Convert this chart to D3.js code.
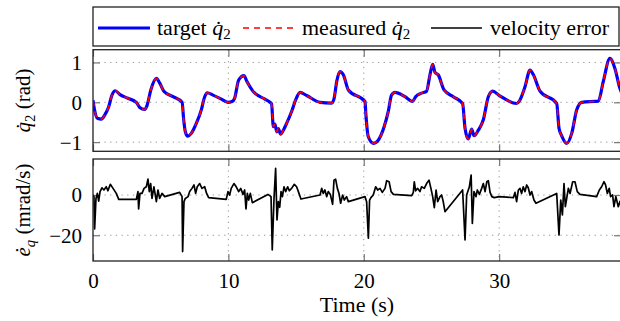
<!DOCTYPE html>
<html>
<head>
<meta charset="utf-8">
<script src="https://cdn.jsdelivr.net/npm/d3@7"></script>
<style>
  body { margin: 0; background: #fff; }
</style>
</head>
<body>
<svg id="chart" width="620" height="321"></svg>
<script>
// values, [time s, value]
const targetQ2 = [
  [0,0.05],[0.12,-0.2],[0.32,-0.40],[0.62,-0.42],[0.86,-0.32],[1.16,-0.11],[1.4,0.18],[1.65,0.29],
  [1.97,0.20],[2.58,0.10],[3.2,0.0],[3.45,-0.13],[3.82,-0.18],[4.0,-0.07],[4.27,0.31],[4.69,0.60],
  [4.93,0.48],[5.25,0.27],[5.91,0.14],[6.58,0.0],[6.7,-0.44],[6.82,-0.74],[7.0,-0.85],[7.26,-0.78],
  [7.63,-0.53],[8.0,-0.19],[8.25,0.14],[8.44,0.24],[8.86,0.18],[9.48,0.08],[9.97,0.0],[10.27,0.02],
  [10.46,0.10],[10.76,0.56],[11.15,0.67],[11.37,0.52],[11.81,0.28],[12.7,0.08],[13.07,0.0],
  [13.19,-0.04],[13.32,-0.61],[13.44,-0.55],[13.57,-0.74],[13.69,-0.66],[13.86,-0.80],[14.06,-0.70],
  [14.3,-0.53],[14.67,-0.23],[14.97,0.06],[15.29,0.25],[15.78,0.17],[16.77,0.0],[17.63,-0.02],
  [17.81,0.10],[18.0,0.52],[18.24,0.77],[18.49,0.69],[18.86,0.31],[20.09,0.02],[20.16,-0.32],
  [20.33,-0.86],[20.7,-1.03],[21.07,-0.95],[21.51,-0.61],[21.81,-0.23],[22.05,0.18],[22.3,0.25],
  [23.04,0.14],[23.6,0.02],[23.83,0.14],[24.27,0.23],[24.64,0.28],[24.89,0.69],[25.09,0.95],
  [25.26,0.75],[25.5,0.69],[25.93,0.31],[26.61,0.14],[27.3,-0.03],[27.48,-0.65],[27.72,-0.92],
  [27.97,-0.67],[28.14,-0.84],[28.46,-0.70],[28.83,-0.44],[29.2,0.14],[29.52,0.28],[30.01,0.17],
  [31.29,-0.03],[31.49,0.03],[31.91,0.39],[32.28,0.81],[32.53,0.69],[33.02,0.28],[34.25,-0.03],
  [34.42,-0.65],[34.62,-0.84],[34.99,-1.03],[35.36,-0.78],[35.73,-0.19],[36.1,0.0],[37.33,0.03],
  [37.69,0.52],[38.18,1.10],[38.55,0.85],[38.92,0.35],[39.1,0.2]
];
// measured overlaps the target everywhere at this scale
const measuredQ2 = targetQ2;

const velError = [
  [0,0],[0.07,-0.8],[0.12,-16.9],[0.22,-1.7],[0.32,0.8],[0.42,-3],[0.52,1.7],[0.66,3.6],[0.81,2.5],
  [0.98,4.1],[1.1,2.1],[1.28,5.3],[1.48,3.3],[1.72,0.8],[1.9,-2.2],[3.2,-2.2],[3.32,1.7],[3.37,-6.9],
  [3.47,0.8],[3.62,0.8],[3.77,3.3],[3.94,4.1],[4.06,7.9],[4.16,1.7],[4.26,5.7],[4.36,-1.7],[4.5,4.1],
  [4.68,-3.3],[4.8,2.5],[4.92,-1.7],[5.1,0.8],[5.3,-0.8],[6.4,1.3],[6.58,-0.8],[6.62,-28.1],[6.72,-3.3],
  [6.82,-1.7],[7.02,-0.8],[7.14,1.7],[7.31,3.3],[7.46,5.0],[7.58,0.8],[7.7,4.1],[7.88,5.7],[8.05,3.3],
  [8.25,4.1],[8.39,0.8],[8.54,-1.3],[9.84,-2.2],[9.97,1.7],[10.09,0],[10.21,3.3],[10.41,5.7],
  [10.58,4.1],[10.76,1.7],[10.91,3.3],[11.08,0.3],[11.2,2.5],[11.3,-6.9],[11.4,0.8],[11.5,-2.5],
  [11.62,0.8],[11.77,-3.8],[12.92,0.3],[13.15,-0.8],[13.24,-27.3],[13.37,-1.7],[13.49,13.2],
  [13.59,-12.4],[13.69,-3.3],[13.79,-6.1],[13.89,1.7],[13.99,-0.8],[14.11,4.1],[14.23,1.7],[14.38,4.1],
  [14.5,2.1],[14.67,3.3],[14.87,5.3],[15.04,4.1],[15.17,1.7],[15.36,-2],[16.77,0],[16.89,3.3],
  [17.01,0.8],[17.13,2.5],[17.26,-0.8],[17.38,1.7],[17.53,0.3],[17.7,-4.6],[17.8,7.4],[17.92,7.9],
  [18.05,3.3],[18.17,0.8],[18.29,-4.1],[18.44,0],[18.56,-2.5],[18.73,-0.8],[18.86,-3.3],[20.09,-0.8],
  [20.21,-3.3],[20.34,-21.5],[20.43,-2.5],[20.53,-1.3],[20.7,0],[20.88,4.1],[21.03,2.5],[21.2,3.3],
  [21.37,1.3],[21.57,3.3],[21.69,7.1],[21.87,6.6],[22.02,1.7],[22.19,0.3],[23.54,-0.3],[23.66,1.3],
  [23.73,6.6],[23.83,2.1],[23.98,3.3],[24.15,1.7],[24.27,4.1],[24.47,3.3],[24.64,5.7],[24.82,7.4],
  [24.96,3.3],[25.09,-0.8],[25.21,-6.3],[25.34,2.5],[25.46,-3.3],[25.63,-0.8],[25.75,0],[25.87,-3.3],
  [26.0,-8.3],[27.3,2.5],[27.48,-22.3],[27.6,0],[27.8,4.1],[27.93,9.9],[28.02,-14.1],[28.14,1.7],
  [28.29,-0.8],[28.39,2.5],[28.54,0.3],[28.71,3.3],[28.83,5.7],[28.96,1.7],[29.09,6.6],[29.2,7.1],
  [29.33,1.3],[29.46,-0.8],[29.63,-1.3],[30.02,-0.8],[31.05,-1.3],[31.17,1.3],[31.29,-3.3],[31.42,2.5],
  [31.54,3.3],[31.66,0.8],[31.78,4.1],[31.91,1.7],[32.03,5.0],[32.15,3.6],[32.28,0],[32.4,1.7],
  [32.57,-2.5],[32.72,-4.1],[34.25,0.8],[34.42,-19.9],[34.55,-2.5],[34.67,-9.9],[34.79,5.7],
  [34.89,-5.8],[34.99,-1.7],[35.11,3.3],[35.24,0.8],[35.43,6.6],[35.6,6.6],[35.77,1.7],[35.97,0.3],
  [37.2,-0.8],[37.4,2.5],[37.57,4.1],[37.74,6.6],[37.86,5.0],[37.99,0.8],[38.13,3.3],[38.23,-0.8],
  [38.38,0],[38.48,-5.8],[38.62,-0.8],[38.8,-5.8],[38.92,-3.3],[39.1,-2]
];

const xTicks = [0, 10, 20, 30];
const q2Ticks = [-1, 0, 1];
const errTicks = [-20, 0];

// pick the first serif face the renderer actually has
const pickFont = function () {
  const ctx = document.createElement("canvas").getContext("2d");
  const probe = "Time (s) velocity error 0123";
  const width = f => { ctx.font = "22px " + f; return ctx.measureText(probe).width; };
  const candidates = ["Liberation Serif", "DejaVu Serif", "Noto Serif", "Tinos", "Times New Roman", "Nimbus Roman", "FreeSerif"];
  for (const c of candidates) {
    const w = width(`'${c}'`);
    if (w !== width(`'${c}', monospace`) ) continue; // shouldn't happen
    if (w !== width("monospace") && width(`'${c}', sans-serif`) !== width("sans-serif")) return `'${c}'`;
  }
  return "serif";
};
const FONT = pickFont();

const svg = d3.select("#chart").attr("font-family", FONT);
const x = d3.scaleLinear().domain([0, 39]).range([93, 621]);

const panels = [
  { id: "top", y: d3.scaleLinear().domain([-1.23, 1.32]).range([151.3, 49.7]), ticks: q2Ticks },
  { id: "bot", y: d3.scaleLinear().domain([-32.8, 17.9]).range([261, 159]), ticks: errTicks }
];

const defs = svg.append("defs");

panels.forEach(p => {
  const [y1, y0] = p.y.range();
  const [x0, x1] = x.range();
  defs.append("clipPath").attr("id", "clip-" + p.id)
    .append("rect").attr("x", x0).attr("y", y0).attr("width", x1 - x0).attr("height", y1 - y0);

  const g = svg.append("g");
  // dotted grid
  g.selectAll(".vg").data(xTicks.slice(1)).join("line")
    .attr("x1", d => x(d)).attr("x2", d => x(d)).attr("y1", y0).attr("y2", y1)
    .attr("stroke", "#999").attr("stroke-width", 1).attr("stroke-dasharray", "1.3,4.4");
  g.selectAll(".hg").data(p.ticks).join("line")
    .attr("x1", x0).attr("x2", x1).attr("y1", d => p.y(d)).attr("y2", d => p.y(d))
    .attr("stroke", "#999").attr("stroke-width", 1).attr("stroke-dasharray", "1.3,4.4");

  // inner ticks on all four sides
  const tk = 7;
  g.append("g").attr("transform", `translate(0,${y1})`)
    .call(d3.axisBottom(x).tickValues(xTicks).tickSize(-tk).tickFormat(""));
  g.append("g").attr("transform", `translate(0,${y0})`)
    .call(d3.axisTop(x).tickValues(xTicks).tickSize(-tk).tickFormat(""));
  g.append("g").attr("transform", `translate(${x0},0)`)
    .call(d3.axisLeft(p.y).tickValues(p.ticks).tickSize(-tk).tickFormat(""));
  g.append("g").attr("transform", `translate(${x1},0)`)
    .call(d3.axisRight(p.y).tickValues(p.ticks).tickSize(-tk).tickFormat(""));
  g.selectAll(".domain").remove();
  g.selectAll(".tick line").attr("stroke", "#777").attr("stroke-width", 1.2);

  // y tick labels
  const yl = svg.append("g").attr("transform", `translate(${x0},0)`)
    .call(d3.axisLeft(p.y).tickValues(p.ticks).tickSize(0).tickPadding(11).tickFormat(d3.format("d")));
  yl.attr("font-family", FONT).attr("font-size", 21);
  yl.select(".domain").remove();
  yl.selectAll("text").attr("fill", "#000").attr("dy", "0.33em");

  p.g = svg.append("g").attr("clip-path", `url(#clip-${p.id})`);
  p.frame = [x0, y0, x1 - x0, y1 - y0];
});

const line = (yS) => d3.line().x(d => x(d[0])).y(d => yS(d[1])).curve(d3.curveMonotoneX);

panels[0].g.append("path").datum(targetQ2).attr("d", line(panels[0].y))
  .attr("fill", "none").attr("stroke", "#0000ff").attr("stroke-width", 3.2)
  .attr("stroke-linejoin", "round");
panels[0].g.append("path").datum(measuredQ2).attr("d", line(panels[0].y))
  .attr("fill", "none").attr("stroke", "#ff0000").attr("stroke-width", 1.7)
  .attr("stroke-dasharray", "6,5");
panels[1].g.append("path").datum(velError)
  .attr("d", d3.line().x(d => x(d[0])).y(d => panels[1].y(d[1])))
  .attr("fill", "none").attr("stroke", "#000").attr("stroke-width", 1.7)
  .attr("stroke-linejoin", "round");

panels.forEach(p => {
  svg.append("rect").attr("x", p.frame[0]).attr("y", p.frame[1])
    .attr("width", p.frame[2]).attr("height", p.frame[3])
    .attr("fill", "none").attr("stroke", "#222").attr("stroke-width", 1.3);
});

// x tick labels
const xl = svg.append("g").attr("transform", "translate(0,261)")
  .call(d3.axisBottom(x).tickValues(xTicks).tickSize(0).tickPadding(12).tickFormat(d3.format("d")));
xl.attr("font-family", FONT).attr("font-size", 21);
xl.select(".domain").remove();
xl.selectAll("text").attr("fill", "#000");

svg.append("text").attr("x", (x.range()[0] + x.range()[1]) / 2).attr("y", 312)
  .attr("text-anchor", "middle").attr("font-size", 22).text("Time (s)");

// math-ish labels built from tspans
function dotted(sel, base, sub, size) {
  sel.append("tspan").attr("font-style", "italic").text(base + "\u0307");
  sel.append("tspan").attr("font-size", size * 0.7).attr("dy", size * 0.22)
    .attr("font-style", sub === "q" ? "italic" : null).text(sub);
  sel.append("tspan").attr("dy", -size * 0.22).text("\u00a0");
}

const yLab1 = svg.append("text").attr("font-size", 21).attr("text-anchor", "middle")
  .attr("transform", `translate(30,${panels[0].y.range().reduce((a, b) => a + b) / 2}) rotate(-90)`);
dotted(yLab1, "q", "2", 21);
yLab1.append("tspan").text("(rad)");

const yLab2 = svg.append("text").attr("font-size", 21).attr("text-anchor", "middle")
  .attr("transform", `translate(30,${panels[1].y.range().reduce((a, b) => a + b) / 2}) rotate(-90)`);
dotted(yLab2, "e", "q", 21);
yLab2.append("tspan").text("(mrad/s)");

// legend
const lg = svg.append("g");
lg.append("rect").attr("x", 93).attr("y", 7).attr("width", 526).attr("height", 39)
  .attr("fill", "#fff").attr("stroke", "#222").attr("stroke-width", 1.3);
const legendItems = [
  { x0: 98, x1: 150, color: "#0000ff", w: 3.2, dash: null, tx: 157, label: ["target ", "q", "2"] },
  { x0: 243, x1: 295, color: "#ff0000", w: 1.7, dash: "6,5", tx: 302, label: ["measured ", "q", "2"] },
  { x0: 431, x1: 482, color: "#000", w: 1.7, dash: null, tx: 490, label: ["velocity error"] }
];
legendItems.forEach(it => {
  lg.append("line").attr("x1", it.x0).attr("x2", it.x1).attr("y1", 28).attr("y2", 28)
    .attr("stroke", it.color).attr("stroke-width", it.w).attr("stroke-dasharray", it.dash);
  const t = lg.append("text").attr("x", it.tx).attr("y", 35).attr("font-size", 22);
  t.append("tspan").text(it.label[0]);
  if (it.label.length > 1) {
    t.append("tspan").attr("font-style", "italic").text(it.label[1] + "\u0307");
    t.append("tspan").attr("font-size", 15).attr("dy", 4).text(it.label[2]);
  }
});
</script>
</body>
</html>
